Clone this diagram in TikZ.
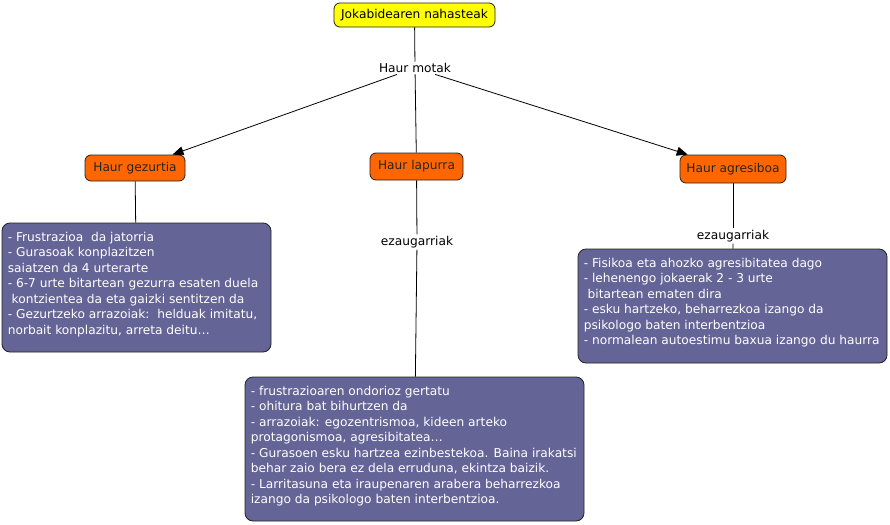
\documentclass[tikz,border=0pt]{standalone}
\usepackage{fontspec}
\setmainfont{DejaVu Sans}
\usetikzlibrary{arrows.meta}
\definecolor{topyellow}{HTML}{FFFF00}
\definecolor{kidorange}{HTML}{FF6600}
\definecolor{boxpurple}{HTML}{646496}
\definecolor{edgegray}{HTML}{222222}
\begin{document}
\begin{tikzpicture}[x=1pt,y=-1pt,
  basefont/.style={font=\fontsize{12.2}{15.5}\selectfont},
  topnode/.style={draw=edgegray,line width=0.8pt,fill=topyellow,rounded corners=6pt,basefont,inner sep=0pt,text=black},
  kidnode/.style={draw=edgegray,line width=0.8pt,fill=kidorange,rounded corners=6pt,basefont,inner sep=0pt,text=black!85},
  infobox/.style={draw=edgegray,line width=0.8pt,fill=boxpurple,rounded corners=8pt,inner sep=0pt},
  infotext/.style={basefont,text=white,align=left,anchor=north west,inner sep=0pt},
  linklabel/.style={basefont,inner sep=1.5pt,text=black},
  conn/.style={draw=black,line width=0.8pt},
  arrowconn/.style={conn,-{Triangle[length=11pt,width=9pt]}}
]
\useasboundingbox (0,0) rectangle (890,524);
\fill[white] (0,0) rectangle (890,524);

\node[topnode,minimum width=161pt,minimum height=24pt] (top) at (414.5,15) {Jokabidearen nahasteak};
\node[linklabel] (motak) at (415,68) {Haur motak};

\node[kidnode,minimum width=100pt,minimum height=26pt] (gezur) at (135,168) {Haur gezurtia};
\node[kidnode,minimum width=93pt,minimum height=27pt] (lapur) at (416.5,166.5) {Haur lapurra};
\node[kidnode,minimum width=106pt,minimum height=28pt] (agres) at (733,169) {Haur agresiboa};

\node[linklabel] (ezaM) at (417,242) {ezaugarriak};
\node[linklabel] (ezaR) at (733,236) {ezaugarriak};

\node[infobox,minimum width=269pt,minimum height=129pt] (boxL) at (136.5,287.5) {};
\node[infobox,minimum width=339pt,minimum height=144pt] (boxM) at (414.5,449) {};
\node[infobox,minimum width=309pt,minimum height=114pt] (boxR) at (732.5,306) {};

\node[infotext] (txtL) at ([xshift=6pt,yshift=-9pt]boxL.north west) {- Frustrazioa\ \ da jatorria\\
- Gurasoak konplazitzen\\
saiatzen da 4 urterarte\\
- 6-7 urte bitartean gezurra esaten duela\\
\ kontzientea da eta gaizki sentitzen da\\
- Gezurtzeko arrazoiak:\ \ helduak imitatu,\\
norbait konplazitu, arreta deitu…};

\node[infotext] (txtM) at ([xshift=6pt,yshift=-9pt]boxM.north west) {- frustrazioaren ondorioz gertatu\\
- ohitura bat bihurtzen da\\
- arrazoiak: egozentrismoa, kideen arteko\\
protagonismoa, agresibitatea…\\
- Gurasoen esku hartzea ezinbestekoa. Baina irakatsi\\
behar zaio bera ez dela erruduna, ekintza baizik.\\
- Larritasuna eta iraupenaren arabera beharrezkoa\\
izango da psikologo baten interbentzioa.};

\node[infotext] (txtR) at ([xshift=6pt,yshift=-9pt]boxR.north west) {- Fisikoa eta ahozko agresibitatea dago\\
- lehenengo jokaerak 2 - 3 urte\\
\ bitartean ematen dira\\
- esku hartzeko, beharrezkoa izango da\\
psikologo baten interbentzioa\\
- normalean autoestimu baxua izango du haurra};

\draw[conn] (top) -- (motak);
\draw[arrowconn] (motak) -- (gezur);
\draw[conn] (motak) -- (lapur);
\draw[arrowconn] (motak) -- (agres);
\draw[conn] (gezur) -- (boxL);
\draw[conn] (lapur) -- (ezaM);
\draw[conn] (ezaM) -- (boxM);
\draw[conn] (agres) -- (ezaR);
\draw[conn] (ezaR) -- (boxR);
\end{tikzpicture}
\end{document}
